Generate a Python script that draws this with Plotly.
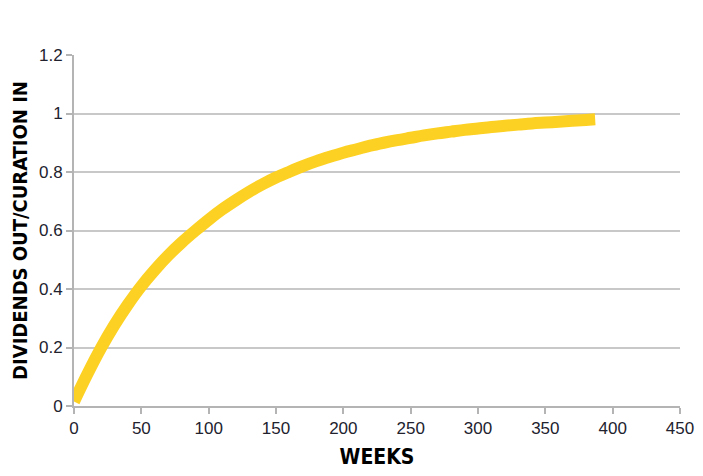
import plotly.graph_objects as go

weeks = [0, 10, 20, 30, 40, 50, 60, 70, 80, 90, 100, 110, 120, 130, 140, 150,
         160, 170, 180, 190, 200, 210, 220, 230, 240, 250, 260, 270, 280, 290,
         300, 310, 320, 330, 340, 350, 360, 370, 380, 387]
ratio = [0.015, 0.11, 0.198, 0.277, 0.347, 0.41, 0.465, 0.515, 0.559, 0.599, 0.637,
         0.672, 0.703, 0.732, 0.758, 0.781, 0.801, 0.82, 0.837, 0.852, 0.866,
         0.878, 0.89, 0.90, 0.909, 0.917, 0.925, 0.932, 0.938, 0.944, 0.949,
         0.954, 0.958, 0.962, 0.966, 0.969, 0.972, 0.975, 0.978, 0.98]

x_ticks = [0, 50, 100, 150, 200, 250, 300, 350, 400, 450]
y_ticks = [0, 0.2, 0.4, 0.6, 0.8, 1, 1.2]
y_tick_text = ["0", "0.2", "0.4", "0.6", "0.8", "1", "1.2"]

fig = go.Figure()
fig.add_trace(go.Scatter(
    x=weeks, y=ratio, mode="lines",
    line=dict(color="#FDD123", width=12, shape="spline", smoothing=1.0),
    showlegend=False, hoverinfo="skip",
))

tick_font = dict(family="Liberation Sans, Arial", size=17, color="#22222e")
title_font = dict(family="DejaVu Sans Condensed, DejaVu Sans", size=20, color="#000000")
xtitle_font = dict(family="DejaVu Sans Condensed, DejaVu Sans", size=21, color="#000000")

fig.update_layout(
    width=703, height=476,
    margin=dict(l=66, r=31, t=47, b=78),
    paper_bgcolor="white", plot_bgcolor="white",
    xaxis=dict(
        range=[0, 450], tickvals=x_ticks, showgrid=False,
        showline=True, linecolor="#b4b4b4", linewidth=2,
        ticks="outside", ticklen=6, tickcolor="#b4b4b4", tickwidth=2,
        tickfont=tick_font, zeroline=False, automargin=False,
        title=dict(text="<b>WEEKS</b>", font=xtitle_font, standoff=12),
    ),
    yaxis=dict(
        range=[0, 1.2], tickvals=y_ticks, ticktext=y_tick_text,
        showgrid=True, gridcolor="#c8c8c8", gridwidth=1.5,
        showline=True, linecolor="#b4b4b4", linewidth=2,
        ticks="outside", ticklen=6, tickcolor="#b4b4b4", tickwidth=2,
        tickfont=tick_font, zeroline=False, automargin=False,
        title=dict(text="<b>DIVIDENDS OUT/CURATION IN</b>", font=title_font, standoff=6),
    ),
)

fig.write_html("out.html")
